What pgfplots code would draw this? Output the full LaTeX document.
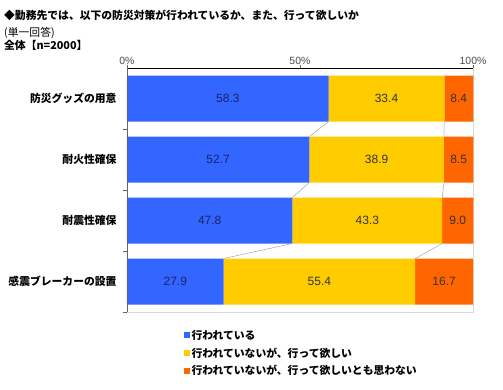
\documentclass[border=0pt]{standalone}
\usepackage{pgfplots}
\pgfplotsset{compat=1.18}
\usepackage{fontspec}
\setmainfont{Liberation Sans}
\newfontfamily\cjk{Noto Sans CJK JP}
\definecolor{cblue}{HTML}{3366FF}
\definecolor{cyellow}{HTML}{FFCC00}
\definecolor{corange}{HTML}{FF6600}
\definecolor{navy}{HTML}{1A2366}
\begin{document}
\begin{tikzpicture}[x=1pt,y=1pt]
\useasboundingbox (0pt,0pt) rectangle (503pt,389pt);
\node[anchor=west,font=\cjk\bfseries\fontsize{10.8}{12}\selectfont,inner sep=0] at (4pt,374pt) {◆勤務先では、以下の防災対策が行われているか、また、行って欲しいか};
\node[anchor=west,font=\cjk\fontsize{10.8}{12}\selectfont,inner sep=0] at (4pt,356pt) {(単一回答)};
\node[anchor=west,font=\cjk\bfseries\fontsize{10.8}{12}\selectfont,inner sep=0] at (4pt,344pt) {全体【n=2000】};
\begin{axis}[
  at={(127pt,77pt)}, anchor=south west,
  width=346pt, height=244pt, scale only axis,
  xbar stacked, bar width=46pt,
  xmin=0, xmax=100, ymin=-0.5, ymax=3.5, y dir=reverse,
  axis line style={black!15},
  xtick={0,50,100}, xtick pos=upper, xticklabel pos=upper,
  xticklabel={\pgfmathprintnumber{\tick}\%},
  x tick label style={font=\fontsize{10.5}{11}\selectfont, text=black!70, yshift=-3pt},
  /pgf/number format/assume math mode=true,
  tick align=outside, major tick length=3pt,
  ytick={0,1,2,3}, ytick pos=left,
  yticklabels={防災グッズの用意,耐火性確保,耐震性確保,感震ブレーカーの設置},
  y tick label style={font=\cjk\bfseries\fontsize{10.8}{12}\selectfont, xshift=-4pt},
  major y tick style={draw=none},
  minor ytick={0.5,1.5,2.5,3.5}, minor tick length=4pt,
  minor y tick style={draw=black!60},
  major x tick style={draw=black!60},
  nodes near coords, point meta=explicit,
  nodes near coords style={font=\fontsize{12}{13}\selectfont},
  every node near coord/.append style={/pgf/number format/fixed, /pgf/number format/fixed zerofill, /pgf/number format/precision=1},
  legend style={at={(0.163,-0.068)}, anchor=north west, draw=none, fill=none,
    font=\cjk\bfseries\fontsize{10.8}{12}\selectfont, row sep=5pt, inner sep=0pt,
    nodes={inner xsep=2pt, inner ysep=1pt}},
  legend cell align=left,
  legend image code/.code={\fill[#1] (0pt,-3pt) rectangle (6pt,3pt);},
  clip=false,
]
\addplot[fill=cblue, draw=none, nodes near coords style={text=navy}] coordinates {(58.3,0) [58.3] (52.7,1) [52.7] (47.8,2) [47.8] (27.9,3) [27.9]};
\addplot[fill=cyellow, draw=none, nodes near coords style={text=black!80}] coordinates {(33.4,0) [33.4] (38.9,1) [38.9] (43.3,2) [43.3] (55.4,3) [55.4]};
\addplot[fill=corange, draw=none, nodes near coords style={text=black!80}] coordinates {(8.4,0) [8.4] (8.5,1) [8.5] (9.0,2) [9.0] (16.7,3) [16.7]};
\legend{行われている,行われていないが、行って欲しい,行われていないが、行って欲しいとも思わない}
\end{axis}
\begin{axis}[
  at={(127pt,77pt)}, anchor=south west,
  width=346pt, height=244pt, scale only axis,
  xmin=0, xmax=100, ymin=-0.5, ymax=3.5, y dir=reverse,
  axis lines=none, clip=false,
]
\addplot[black!35, line width=0.5pt] coordinates {(58.3,0.377) (52.7,0.623)};
\addplot[black!35, line width=0.5pt] coordinates {(52.7,1.377) (47.8,1.623)};
\addplot[black!35, line width=0.5pt] coordinates {(47.8,2.377) (27.9,2.623)};
\addplot[black!35, line width=0.5pt] coordinates {(91.7,0.377) (91.6,0.623)};
\addplot[black!35, line width=0.5pt] coordinates {(91.6,1.377) (91.1,1.623)};
\addplot[black!35, line width=0.5pt] coordinates {(91.1,2.377) (83.3,2.623)};
\draw[black] (rel axis cs:0,1) -- (rel axis cs:1,1);
\draw[black!60] (rel axis cs:0,0) -- (rel axis cs:0,1);
\end{axis}
\end{tikzpicture}
\end{document}
